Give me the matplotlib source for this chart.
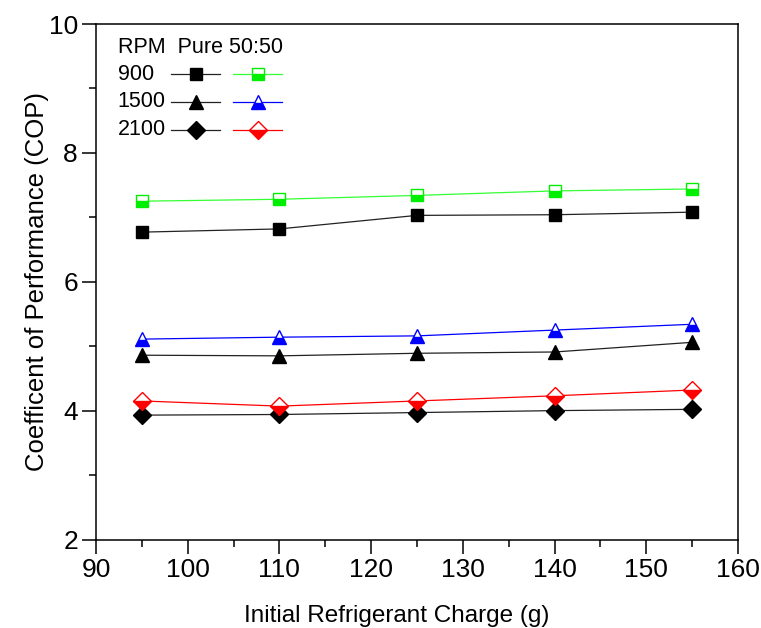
import matplotlib
matplotlib.use("Agg")
import matplotlib.pyplot as plt
from matplotlib.ticker import MultipleLocator

plt.rcParams['font.family'] = ['Liberation Sans', 'DejaVu Sans']

charge = [95, 110, 125, 140, 155]
pure_900 = [6.77, 6.82, 7.03, 7.04, 7.08]
mix_900 = [7.25, 7.28, 7.34, 7.41, 7.44]
pure_1500 = [4.86, 4.85, 4.89, 4.91, 5.06]
mix_1500 = [5.11, 5.14, 5.16, 5.25, 5.34]
pure_2100 = [3.93, 3.94, 3.97, 4.00, 4.02]
mix_2100 = [4.15, 4.07, 4.15, 4.23, 4.32]
rpm_labels = ["900", "1500", "2100"]

fig = plt.figure(figsize=(7.61, 6.28), dpi=100)
ax = fig.add_axes([96/761, 1-539.5/628, (738-96)/761, (539.5-24)/628])

lw = 0.9
green_line, green_mk = '#33ff33', '#00ee00'
styles = [
    dict(marker='s', ms=9),
    dict(marker='^', ms=10),
    dict(marker='D', ms=9.5),
]
pure_series = [pure_900, pure_1500, pure_2100]
mix_series = [mix_900, mix_1500, mix_2100]
mix_colors = [(green_line, green_mk), ('#0000ff', '#0000ff'), ('#ff0000', '#ff0000')]

pure_kw = []
mix_kw = []
for st, (lc, mc) in zip(styles, mix_colors):
    pure_kw.append(dict(color='#222222', lw=lw, mfc='black', mec='black', **st))
    mix_kw.append(dict(color=lc, lw=lw, mfc=mc, mec=mc, mfcalt='white',
                       fillstyle='bottom', **st))

for ys, kw in zip(pure_series, pure_kw):
    ax.plot(charge, ys, '-', **kw)
for ys, kw in zip(mix_series, mix_kw):
    ax.plot(charge, ys, '-', **kw)

ax.set_xlim(90, 160)
ax.set_ylim(2, 10)
ax.xaxis.set_major_locator(MultipleLocator(10))
ax.xaxis.set_minor_locator(MultipleLocator(5))
ax.yaxis.set_major_locator(MultipleLocator(2))
ax.yaxis.set_minor_locator(MultipleLocator(1))
ax.tick_params(which='major', direction='out', length=10, width=1.1, labelsize=19, pad=3)
ax.tick_params(which='minor', direction='out', length=5, width=1.1)
ax.tick_params(top=False, right=False)
for s in ax.spines.values():
    s.set_linewidth(1.1)

ax.set_xlabel('Initial Refrigerant Charge (g)', fontsize=17.5, labelpad=17,
              x=(397 - 96) / 642)
ax.set_ylabel('Coefficent of Performance (COP)', fontsize=18.5, labelpad=0)

# Custom legend (guide, in axes fraction coordinates)
fs_leg = 15.5
tr = ax.transAxes
ax.text(0.034, 0.955, 'RPM  Pure 50:50', transform=tr, fontsize=fs_leg,
        ha='left', va='center')
row_y = [0.903, 0.849, 0.795]
for lab, y, pk, mk in zip(rpm_labels, row_y, pure_kw, mix_kw):
    ax.text(0.034, y, lab, transform=tr, fontsize=fs_leg, ha='left', va='center')
    ax.plot([0.117, 0.193], [y, y], transform=tr, clip_on=False,
            **{k: v for k, v in pk.items() if k not in ('marker',)}, marker=None)
    ax.plot([0.155], [y], transform=tr, clip_on=False, ls='none', **pk)
    ax.plot([0.213, 0.290], [y, y], transform=tr, clip_on=False,
            **{k: v for k, v in mk.items() if k not in ('marker',)}, marker=None)
    ax.plot([0.2516], [y], transform=tr, clip_on=False, ls='none', **mk)

fig.savefig('out.png', dpi=100)
